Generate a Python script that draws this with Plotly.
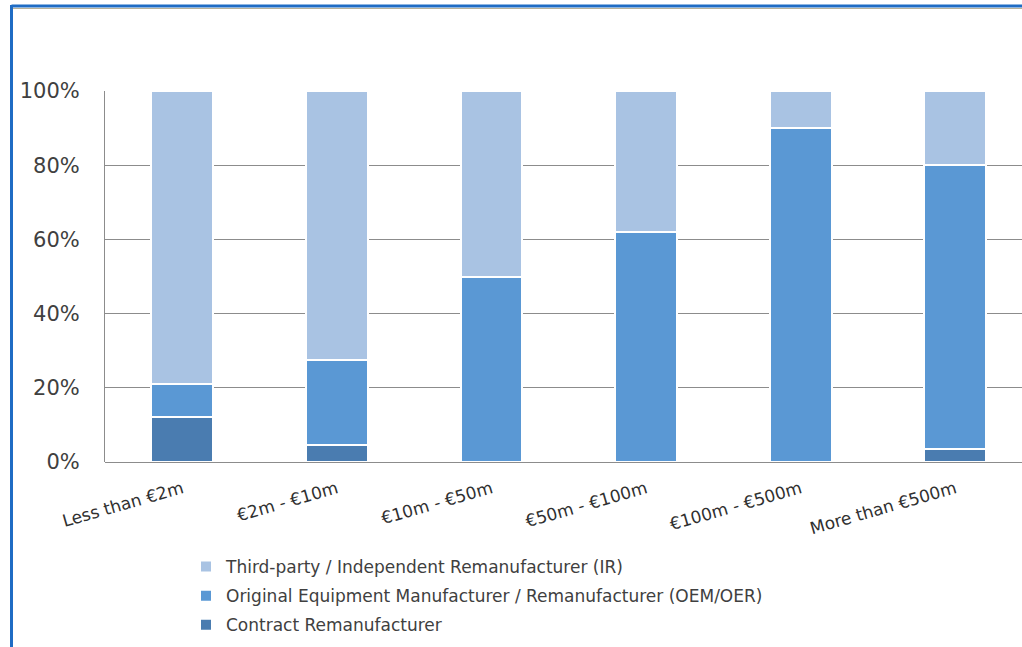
import plotly.graph_objects as go

categories = ["Less than €2m", "€2m - €10m", "€10m - €50m", "€50m - €100m", "€100m - €500m", "More than €500m"]
contract = [12, 4.5, 0, 0, 0, 3.5]
oem = [9, 23, 50, 62, 90, 76.5]
ir = [79, 72.5, 50, 38, 10, 20]

series = [
    ("Contract Remanufacturer", contract, "#4A7CB0", 3),
    ("Original Equipment Manufacturer / Remanufacturer (OEM/OER)", oem, "#5A98D4", 2),
    ("Third-party / Independent Remanufacturer (IR)", ir, "#A9C3E3", 1),
]

fig = go.Figure()
for i, (name, vals, col, rank) in enumerate(series):
    fig.add_trace(go.Bar(
        x=list(range(len(categories))), y=vals, name=name,
        marker=dict(color=col, line=dict(color="white", width=2)),
        width=0.40, legendgroup=f"g{i}", legendrank=rank,
    ))

W, H = 1022, 647
L, R, T, B = 105, 0, 91, 185
slot = 154.6
pw = W - L - R
ph = H - T - B

def px_x(px):
    return (px - L) / pw

def px_y(py):
    return (H - B - py) / ph

FONT = "DejaVu Sans, Noto Sans, sans-serif"

fig.update_layout(
    width=W, height=H,
    barmode="stack",
    margin=dict(l=L, r=R, t=T, b=B, pad=0, autoexpand=False),
    paper_bgcolor="white", plot_bgcolor="white",
    font=dict(family=FONT, color="#404040"),
    showlegend=True,
    legend=dict(
        x=px_x(186), y=px_y(549), xanchor="left", yanchor="top",
        traceorder="grouped", tracegroupgap=4,
        font=dict(family=FONT, size=17, color="#404040"),
        bgcolor="rgba(0,0,0,0)",
    ),
    xaxis=dict(
        tickmode="array", tickvals=list(range(len(categories))), ticktext=categories,
        range=[-0.5, -0.5 + pw / slot], tickangle=-16, automargin=False,
        showgrid=False, showline=False, zeroline=False,
        tickfont=dict(family=FONT, size=17, color="#303030"), ticks="",
        ticklabelstandoff=13,
    ),
    yaxis=dict(
        range=[0, 100], tickvals=[0, 20, 40, 60, 80, 100],
        ticktext=["0%", "20%", "40%", "60%", "80%", "100%"], automargin=False,
        showgrid=True, gridcolor="#8C8C8C", gridwidth=1,
        zeroline=True, zerolinecolor="#8C8C8C", zerolinewidth=1,
        showline=True, linecolor="#8C8C8C", linewidth=1,
        tickfont=dict(family=FONT, size=21, color="#404040"), ticks="",
        ticklabelstandoff=20,
    ),
)

# outer frame (blue border on top and left)
fig.add_shape(type="line", xref="paper", yref="paper",
              x0=px_x(11.5), x1=px_x(1022), y0=px_y(6), y1=px_y(6),
              line=dict(color="#1F6CC4", width=3))
fig.add_shape(type="line", xref="paper", yref="paper",
              x0=px_x(11.5), x1=px_x(11.5), y0=px_y(5), y1=px_y(647),
              line=dict(color="#1F6CC4", width=3))
fig.add_shape(type="line", xref="paper", yref="paper",
              x0=px_x(13), x1=px_x(1022), y0=px_y(8.5), y1=px_y(8.5),
              line=dict(color="#B8B29A", width=1))

fig.write_html("out.html", config={"displayModeBar": False},
               post_script="document.body.style.margin='0px';document.body.style.overflow='hidden';")
